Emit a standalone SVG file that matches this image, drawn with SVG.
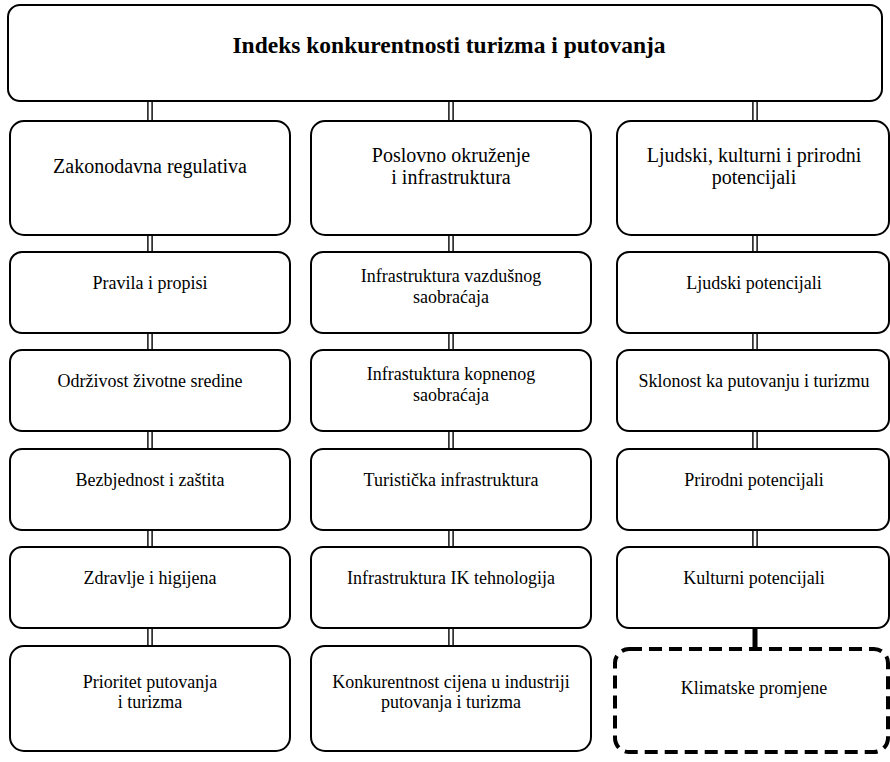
<svg xmlns="http://www.w3.org/2000/svg" width="890" height="762" viewBox="0 0 890 762">
<style>
.box{fill:#fff;stroke:#000;stroke-width:2}
.dash{fill:none;stroke:#000;stroke-width:4;stroke-dasharray:13 7}
.co{stroke:#333;stroke-width:6}
.ci{stroke:#fff;stroke-width:2.5}
text{font-family:"Liberation Serif","Times New Roman",serif;fill:#000;text-anchor:middle}
.t{font-size:23.5px;font-weight:bold}
.h{font-size:20px}
.b{font-size:18px}
</style>
<rect width="890" height="762" fill="#fff"/>
<g id="connectors">
<line class="co" x1="150" y1="101" x2="150" y2="122"/><line class="ci" x1="150" y1="101" x2="150" y2="122"/>
<line class="co" x1="451" y1="101" x2="451" y2="122"/><line class="ci" x1="451" y1="101" x2="451" y2="122"/>
<line class="co" x1="755" y1="101" x2="755" y2="122"/><line class="ci" x1="755" y1="101" x2="755" y2="122"/>
<line class="co" x1="150" y1="235" x2="150" y2="252"/><line class="ci" x1="150" y1="235" x2="150" y2="252"/>
<line class="co" x1="451" y1="235" x2="451" y2="252"/><line class="ci" x1="451" y1="235" x2="451" y2="252"/>
<line class="co" x1="755" y1="235" x2="755" y2="252"/><line class="ci" x1="755" y1="235" x2="755" y2="252"/>
<line class="co" x1="150" y1="333" x2="150" y2="350"/><line class="ci" x1="150" y1="333" x2="150" y2="350"/>
<line class="co" x1="451" y1="333" x2="451" y2="350"/><line class="ci" x1="451" y1="333" x2="451" y2="350"/>
<line class="co" x1="755" y1="333" x2="755" y2="350"/><line class="ci" x1="755" y1="333" x2="755" y2="350"/>
<line class="co" x1="150" y1="431" x2="150" y2="449"/><line class="ci" x1="150" y1="431" x2="150" y2="449"/>
<line class="co" x1="451" y1="431" x2="451" y2="449"/><line class="ci" x1="451" y1="431" x2="451" y2="449"/>
<line class="co" x1="755" y1="431" x2="755" y2="449"/><line class="ci" x1="755" y1="431" x2="755" y2="449"/>
<line class="co" x1="150" y1="530" x2="150" y2="547"/><line class="ci" x1="150" y1="530" x2="150" y2="547"/>
<line class="co" x1="451" y1="530" x2="451" y2="547"/><line class="ci" x1="451" y1="530" x2="451" y2="547"/>
<line class="co" x1="755" y1="530" x2="755" y2="547"/><line class="ci" x1="755" y1="530" x2="755" y2="547"/>
<line class="co" x1="150" y1="628" x2="150" y2="646"/><line class="ci" x1="150" y1="628" x2="150" y2="646"/>
<line class="co" x1="451" y1="628" x2="451" y2="646"/><line class="ci" x1="451" y1="628" x2="451" y2="646"/>
<line stroke="#000" stroke-width="5" x1="755" y1="628" x2="755" y2="648"/>
</g>
<g id="root"><rect class="box" x="8" y="5" width="874" height="96" rx="12"/><text class="t" x="449" y="53">Indeks konkurentnosti turizma i putovanja</text></g>
<g id="zakonodavna"><rect class="box" x="10" y="121" width="280" height="114" rx="14"/><text class="h" x="150" y="173">Zakonodavna regulativa</text></g>
<g id="poslovno"><rect class="box" x="311" y="121" width="280" height="114" rx="14"/><text class="h" x="451" y="162">Poslovno okruženje</text><text class="h" x="451" y="184">i infrastruktura</text></g>
<g id="ljudski"><rect class="box" x="617" y="121" width="272" height="114" rx="14"/><text class="h" x="754" y="162">Ljudski, kulturni i prirodni</text><text class="h" x="754" y="184">potencijali</text></g>

<g id="pravila"><rect class="box" x="10" y="252" width="280" height="81" rx="12"/><text class="b" x="150" y="289">Pravila i propisi</text></g>
<g id="vazdusni"><rect class="box" x="311" y="252" width="280" height="81" rx="12"/><text class="b" x="451" y="282">Infrastruktura vazdušnog</text><text class="b" x="451" y="303">saobraćaja</text></g>
<g id="ljudski-pot"><rect class="box" x="617" y="252" width="272" height="81" rx="12"/><text class="b" x="754" y="289">Ljudski potencijali</text></g>

<g id="odrzivost"><rect class="box" x="10" y="350" width="280" height="81" rx="12"/><text class="b" x="150" y="387">Održivost životne sredine</text></g>
<g id="kopneni"><rect class="box" x="311" y="350" width="280" height="81" rx="12"/><text class="b" x="451" y="380">Infrastuktura kopnenog</text><text class="b" x="451" y="401">saobraćaja</text></g>
<g id="sklonost"><rect class="box" x="617" y="350" width="272" height="81" rx="12"/><text class="b" x="754" y="387">Sklonost ka putovanju i turizmu</text></g>

<g id="bezbjednost"><rect class="box" x="10" y="449" width="280" height="81" rx="12"/><text class="b" x="150" y="486">Bezbjednost i zaštita</text></g>
<g id="turisticka"><rect class="box" x="311" y="449" width="280" height="81" rx="12"/><text class="b" x="451" y="486">Turistička infrastruktura</text></g>
<g id="prirodni"><rect class="box" x="617" y="449" width="272" height="81" rx="12"/><text class="b" x="754" y="486">Prirodni potencijali</text></g>

<g id="zdravlje"><rect class="box" x="10" y="547" width="280" height="81" rx="12"/><text class="b" x="150" y="584">Zdravlje i higijena</text></g>
<g id="ik"><rect class="box" x="311" y="547" width="280" height="81" rx="12"/><text class="b" x="451" y="584">Infrastruktura IK tehnologija</text></g>
<g id="kulturni"><rect class="box" x="617" y="547" width="272" height="81" rx="12"/><text class="b" x="754" y="584">Kulturni potencijali</text></g>

<g id="prioritet"><rect class="box" x="10" y="646" width="280" height="105" rx="14"/><text class="b" x="150" y="688">Prioritet putovanja</text><text class="b" x="150" y="708">i turizma</text></g>
<g id="konkurentnost"><rect class="box" x="311" y="646" width="280" height="105" rx="14"/><text class="b" x="451" y="688">Konkurentnost cijena u industriji</text><text class="b" x="451" y="708">putovanja i turizma</text></g>
<g id="klimatske"><rect class="dash" x="615" y="649" width="273" height="103" rx="14"/><text class="b" x="754" y="694">Klimatske promjene</text></g>
</svg>
